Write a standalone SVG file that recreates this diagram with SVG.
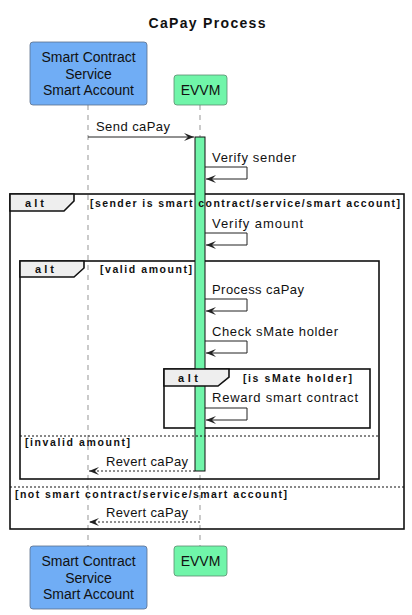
<svg xmlns="http://www.w3.org/2000/svg" width="412" height="615" viewBox="0 0 412 615">
<style>
text{font-family:"Liberation Sans",Arial,sans-serif;fill:#111}
.title{font-size:14px;font-weight:bold}
.pt{font-size:14px;text-anchor:middle}
.msg{font-size:13px}
.cond{font-size:10.5px;font-weight:bold}
.altl{font-size:11px;font-weight:bold}
.life{stroke:#a8a8a8;stroke-width:1.2;stroke-dasharray:5 5;fill:none}
.pblue{fill:#70adf5;stroke:#5a6f8a;stroke-width:0.8}
.pgreen{fill:#70f5a9;stroke:#5a8a6f;stroke-width:0.8}
.frame{fill:none;stroke:#111;stroke-width:1.6}
.tab{fill:#eeeeee;stroke:#111;stroke-width:1.6}
.sep{stroke:#111;stroke-width:1;stroke-dasharray:2 2}
.act{fill:#70f5a9;stroke:#111;stroke-width:1}
.arr{fill:none;stroke:#222;stroke-width:1;marker-end:url(#ah)}
.ret{fill:none;stroke:#222;stroke-width:1;stroke-dasharray:2 2;marker-end:url(#ah)}
</style>
<defs>
<marker id="ah" markerUnits="userSpaceOnUse" viewBox="0 0 10 8" markerWidth="10" markerHeight="8" refX="10" refY="4" orient="auto">
<path d="M0,0 L10,4 L0,8 L4,4 Z" fill="#222"/>
</marker>
</defs>
<rect width="412" height="615" fill="#fff"/>
<text class="title" x="207" y="28" text-anchor="middle" textLength="117" lengthAdjust="spacing">CaPay Process</text>

<g id="lifelines">
<line class="life" x1="88" y1="105" x2="88" y2="546"/>
<line class="life" x1="200" y1="105" x2="200" y2="546"/>
</g>

<g id="participant-sc-top">
<rect class="pblue" x="30" y="42" width="117" height="63" rx="3"/>
<text class="pt" x="88.5" y="62">Smart Contract</text>
<text class="pt" x="88.5" y="79">Service</text>
<text class="pt" x="88.5" y="95">Smart Account</text>
</g>
<g id="participant-evvm-top">
<rect class="pgreen" x="174" y="75" width="53" height="30" rx="3"/>
<text class="pt" x="200.5" y="95">EVVM</text>
</g>

<g id="frames">
<g id="alt-outer">
<rect class="frame" x="10" y="194" width="394" height="335"/>
<path class="tab" d="M10,194 H74 V201 L64,211 H10 Z"/>
<text class="altl" x="25" y="207" textLength="19" lengthAdjust="spacing">alt</text>
<line class="sep" x1="10" y1="487" x2="404" y2="487"/>
<text class="cond" x="15" y="498" textLength="272" lengthAdjust="spacing">[not smart contract/service/smart account]</text>
</g>
<g id="alt-inner">
<rect class="frame" x="20" y="261" width="359" height="218"/>
<path class="tab" d="M20,261 H84 V268 L74,277 H20 Z"/>
<text class="altl" x="35" y="273" textLength="19" lengthAdjust="spacing">alt</text>
<text class="cond" x="100" y="273" textLength="92" lengthAdjust="spacing">[valid amount]</text>
<text class="cond" x="25" y="446" textLength="105" lengthAdjust="spacing">[invalid amount]</text>
</g>
<g id="alt-smate-box">
<rect class="frame" x="164" y="369" width="206" height="59"/>
</g>
</g>

<g id="activation-evvm">
<rect class="act" x="195" y="137" width="10" height="334"/>
</g>

<text class="cond" x="90" y="207" textLength="310" lengthAdjust="spacing">[sender is smart contract/service/smart account]</text>
<line class="sep" x1="20" y1="436" x2="379" y2="436"/>

<g id="alt-smate">
<path class="tab" d="M164,369 H229 V377 L218,386 H164 Z"/>
<text class="altl" x="178" y="382" textLength="20" lengthAdjust="spacing">alt</text>
<text class="cond" x="243" y="382" textLength="109" lengthAdjust="spacing">[is sMate holder]</text>
</g>

<g id="connectors">
<line class="arr" x1="88" y1="137" x2="194" y2="137"/>
<text class="msg" x="96" y="131" textLength="74" lengthAdjust="spacing">Send caPay</text>
<path class="arr" d="M205,167 H247 V179 H206"/>
<text class="msg" x="212" y="162" textLength="84" lengthAdjust="spacing">Verify sender</text>
<path class="arr" d="M205,233 H247 V245 H206"/>
<text class="msg" x="212" y="228" textLength="91" lengthAdjust="spacing">Verify amount</text>
<path class="arr" d="M205,299 H247 V311 H206"/>
<text class="msg" x="212" y="294" textLength="92" lengthAdjust="spacing">Process caPay</text>
<path class="arr" d="M205,341 H247 V353 H206"/>
<text class="msg" x="212" y="336" textLength="126" lengthAdjust="spacing">Check sMate holder</text>
<path class="arr" d="M205,408 H247 V420 H206"/>
<text class="msg" x="212" y="402" textLength="146" lengthAdjust="spacing">Reward smart contract</text>
<line class="ret" x1="195" y1="471" x2="89" y2="471"/>
<text class="msg" x="106" y="466" textLength="82" lengthAdjust="spacing">Revert caPay</text>
<line class="ret" x1="200" y1="522" x2="89" y2="522"/>
<text class="msg" x="106" y="517" textLength="82" lengthAdjust="spacing">Revert caPay</text>
</g>

<g id="participant-sc-bottom">
<rect class="pblue" x="30" y="546" width="117" height="63" rx="3"/>
<text class="pt" x="88.5" y="566">Smart Contract</text>
<text class="pt" x="88.5" y="583">Service</text>
<text class="pt" x="88.5" y="599">Smart Account</text>
</g>
<g id="participant-evvm-bottom">
<rect class="pgreen" x="174" y="546" width="53" height="30" rx="3"/>
<text class="pt" x="200.5" y="566">EVVM</text>
</g>
</svg>
